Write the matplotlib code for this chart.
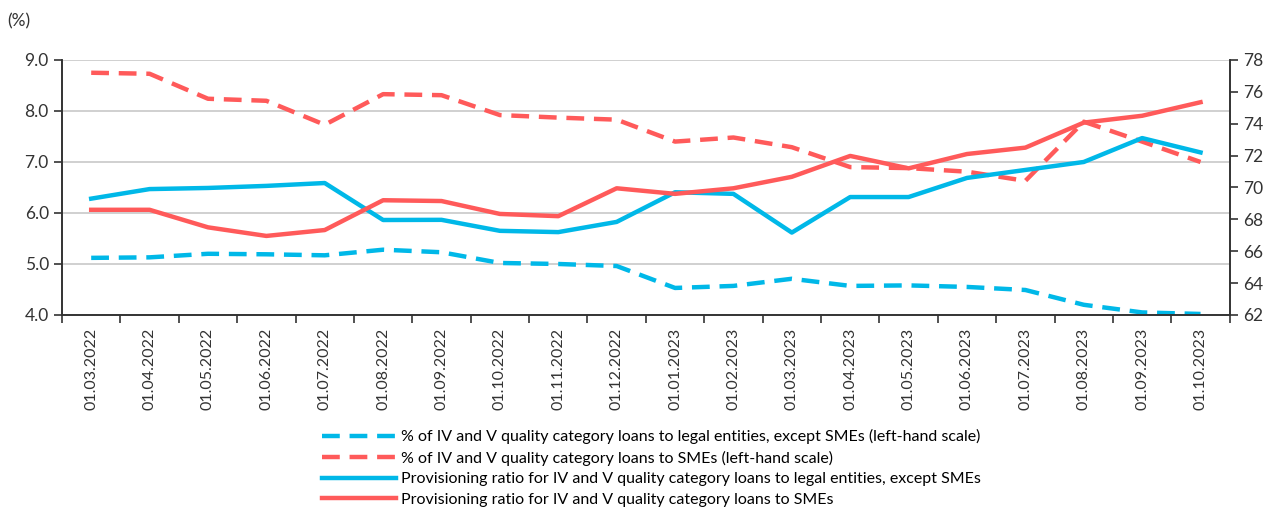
import numpy as np
import matplotlib.pyplot as plt
from matplotlib.ticker import FixedLocator

plt.rcParams['font.family'] = ['Lato', 'DejaVu Sans']

dates = ["01.03.2022", "01.04.2022", "01.05.2022", "01.06.2022", "01.07.2022",
         "01.08.2022", "01.09.2022", "01.10.2022", "01.11.2022", "01.12.2022",
         "01.01.2023", "01.02.2023", "01.03.2023", "01.04.2023", "01.05.2023",
         "01.06.2023", "01.07.2023", "01.08.2023", "01.09.2023", "01.10.2023"]

# left-hand scale (%)
share_le = [5.12, 5.13, 5.20, 5.19, 5.17, 5.28, 5.23, 5.02, 5.00, 4.96,
            4.53, 4.57, 4.71, 4.57, 4.58, 4.55, 4.49, 4.20, 4.05, 4.02]
share_sme = [8.75, 8.73, 8.24, 8.20, 7.73, 8.33, 8.31, 7.92, 7.87, 7.83,
             7.40, 7.48, 7.29, 6.90, 6.88, 6.81, 6.63, 7.79, 7.40, 7.00]
# right-hand scale (%)
prov_le = [69.3, 69.9, 69.97, 70.1, 70.28, 67.96, 67.97, 67.28, 67.2, 67.84,
           69.7, 69.6, 67.17, 69.4, 69.4, 70.6, 71.1, 71.6, 73.1, 72.2]
prov_sme = [68.6, 68.6, 67.5, 66.96, 67.33, 69.2, 69.15, 68.34, 68.2, 69.95,
            69.6, 69.95, 70.67, 71.98, 71.2, 72.1, 72.5, 74.07, 74.5, 75.35]

labels = ["% of IV and V quality category loans to legal entities, except SMEs (left-hand scale)",
          "% of IV and V quality category loans to SMEs (left-hand scale)",
          "Provisioning ratio for IV and V quality category loans to legal entities, except SMEs",
          "Provisioning ratio for IV and V quality category loans to SMEs"]

blue = '#00B8E8'
red = '#FF5A5A'
dash = (0, (4, 2.2))

fig = plt.figure(figsize=(12.73, 5.11), dpi=100)
ax = fig.add_axes([0.0487, 0.3836, 0.9173, 0.499])
ax2 = ax.twinx()

x = np.arange(len(dates))
l1, = ax.plot(x, share_le, color=blue, lw=3.2, linestyle=dash)
l2, = ax.plot(x, share_sme, color=red, lw=3.2, linestyle=dash)
l3, = ax2.plot(x, prov_le, color=blue, lw=3.2)
l4, = ax2.plot(x, prov_sme, color=red, lw=3.2)

ax.set_xlim(-0.5, len(dates) - 0.5)
ax.set_ylim(4, 9)
ax.set_yticks(np.arange(4, 9.01, 1))
ax.set_yticklabels([f"{v:.1f}" for v in np.arange(4, 9.01, 1)])
ax2.set_ylim(62, 78)
ax2.set_yticks(np.arange(62, 78.1, 2))

ax.set_xticks(x)
ax.set_xticklabels(dates, rotation=90)
ax.xaxis.set_minor_locator(FixedLocator(np.arange(-0.5, len(dates), 1)))
ax.tick_params(axis='x', which='major', length=0, pad=9)
ax.tick_params(axis='x', which='minor', length=6, width=1.2, color='#333333')

ax.grid(axis='y', color='#c8c8c8', lw=1.2)
ax.set_axisbelow(True)
for a in (ax, ax2):
    a.spines['top'].set_visible(False)
    for s in ('left', 'right', 'bottom'):
        a.spines[s].set_color('#333333')
        a.spines[s].set_linewidth(1.2)
    a.tick_params(axis='y', labelsize=12.5, length=6, width=1.2, color='#333333', labelcolor='#333333')
ax.tick_params(axis='x', labelsize=11.5, labelcolor='#333333')

fig.text(0.006, 0.958, "(%)", fontsize=12.5, color='#333333', va='center')

fig.legend([l1, l2, l3, l4], labels, loc='upper center', bbox_to_anchor=(0.512, 0.16),
           frameon=False, fontsize=11.5, handlelength=4.6, labelspacing=0.4,
           handletextpad=0.35, borderpad=0, borderaxespad=0)

fig.savefig("out.png", dpi=100)
